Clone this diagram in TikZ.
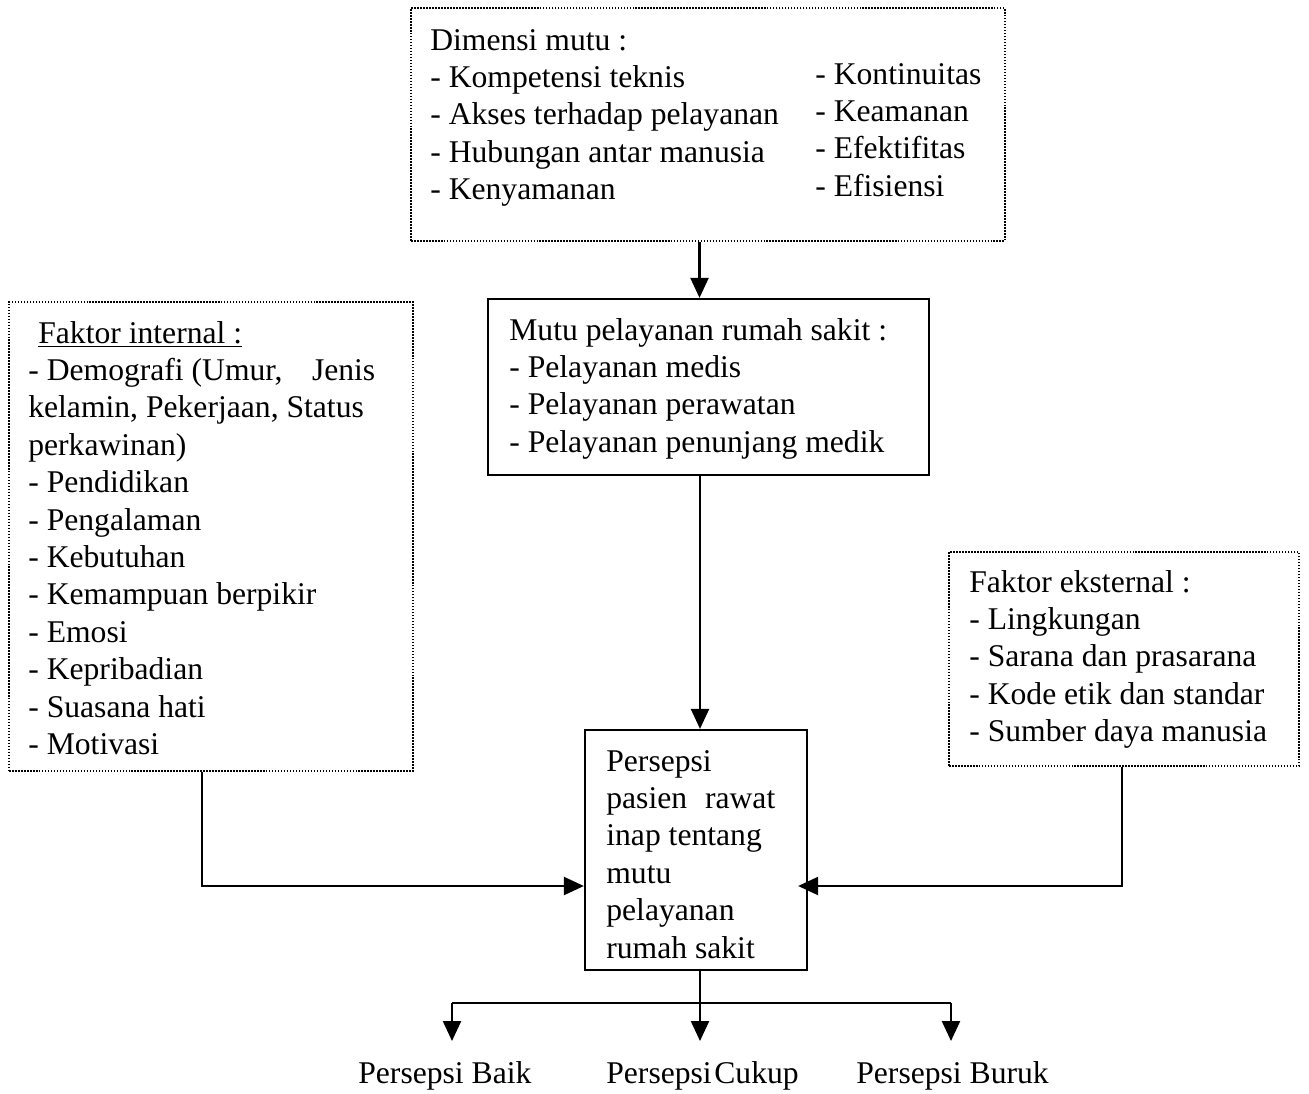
\documentclass[tikz,border=0pt]{standalone}
\usepackage{fontspec}
\setmainfont{Liberation Serif}
\usetikzlibrary{arrows.meta}
\begin{document}
\begin{tikzpicture}[x=0.02cm,y=-0.02cm,
  txt/.style={anchor=base west, inner sep=0pt, font=\fontsize{18}{21.3}\selectfont},
  dotbox/.style={draw, line width=0.8pt, dash pattern=on 0.9pt off 0.8pt, inner sep=0pt},
  solidbox/.style={draw, line width=1.3pt, inner sep=0pt},
  ln/.style={line width=1.3pt},
  arr/.style={line width=1.3pt, -{Triangle[length=0.4cm,width=0.36cm]}}]
\useasboundingbox[fill=white] (0,0) rectangle (1309,1093);

% boxes
\node[dotbox, minimum width=11.88cm, minimum height=4.66cm] (dim) at (708,124.5) {};
\node[solidbox, minimum width=8.82cm, minimum height=3.52cm] (mutu) at (708.5,387) {};
\node[dotbox, minimum width=8.08cm, minimum height=9.38cm] (int) at (211,536.5) {};
\node[dotbox, minimum width=7.0cm, minimum height=4.28cm] (ext) at (1124,659) {};
\node[solidbox, minimum width=4.44cm, minimum height=4.8cm] (pers) at (696,850) {};

% texts
\node[txt] (dimL) at (430,50) {\parbox[t]{7.5cm}{\raggedright Dimensi mutu :\\
- Kompetensi teknis\\
- Akses terhadap pelayanan\\
- Hubungan antar manusia\\
- Kenyamanan}};
\node[txt] (dimR) at (815,84) {\parbox[t]{4cm}{\raggedright - Kontinuitas\\
- Keamanan\\
- Efektifitas\\
- Efisiensi}};
\node[txt] (mutuT) at (509,340) {\parbox[t]{8.4cm}{\raggedright Mutu pelayanan rumah sakit :\\
- Pelayanan medis\\
- Pelayanan perawatan\\
- Pelayanan penunjang medik}};
\node[txt] (intT) at (28,343) {\parbox[t]{7.6cm}{\raggedright \hspace*{0.2cm}\underline{Faktor internal :}\\
\leavevmode\hbox to 6.94cm{- Demografi (Umur,\hfill Jenis}\\
kelamin, Pekerjaan, Status\\
perkawinan)\\
- Pendidikan\\
- Pengalaman\\
- Kebutuhan\\
- Kemampuan berpikir\\
- Emosi\\
- Kepribadian\\
- Suasana hati\\
- Motivasi}};
\node[txt] (extT) at (969,592) {\parbox[t]{6.6cm}{\raggedright Faktor eksternal :\\
- Lingkungan\\
- Sarana dan prasarana\\
- Kode etik dan standar\\
- Sumber daya manusia}};
\node[txt] (persT) at (606,771) {\parbox[t]{4cm}{\raggedright Persepsi\\
\leavevmode\hbox to 3.38cm{pasien\hfill rawat}\\
inap tentang\\
mutu\\
pelayanan\\
rumah sakit}};

\node[txt] (baik) at (358,1083) {Persepsi Baik};
\node[txt] (cukup) at (606,1083) {Persepsi\kern1.5pt Cukup};
\node[txt] (buruk) at (856,1083) {Persepsi Buruk};

% connectors
\draw[arr] ([xshift=-0.17cm]dim.south) -- ([xshift=-0.17cm]dim.south |- mutu.north);
\draw[arr] ([xshift=-0.17cm]mutu.south) -- ([xshift=-0.17cm]mutu.south |- pers.north);
\draw[arr] ([xshift=-0.18cm]int.south) |- ([yshift=-0.72cm]pers.west);
\draw[arr] ([xshift=-0.04cm]ext.south) |- ([yshift=-0.72cm,xshift=-0.2cm]pers.east);

\coordinate (j) at (700,1003);
\coordinate (bl) at (452,1003);
\coordinate (br) at (951,1003);
\coordinate (tb) at (452,1041);
\coordinate (tc) at (700,1041);
\coordinate (tr) at (951,1041);
\draw[ln] (pers.south -| j) -- (j);
\draw[ln] (bl) -- (br);
\draw[arr] (bl) -- (tb);
\draw[arr] (j) -- (tc);
\draw[arr] (br) -- (tr);
\end{tikzpicture}
\end{document}
